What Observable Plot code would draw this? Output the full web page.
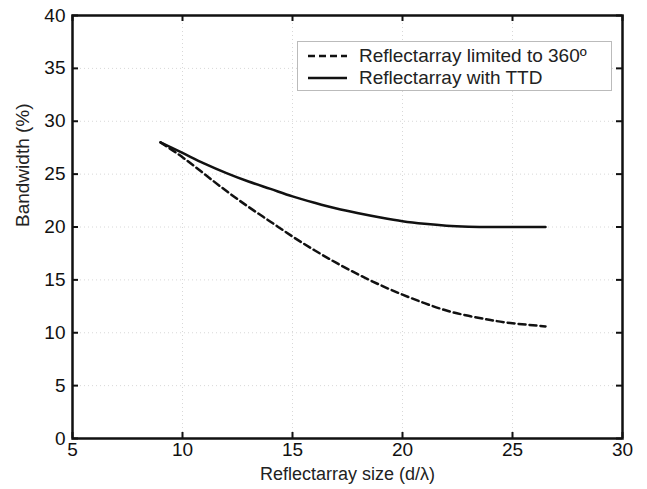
<!DOCTYPE html>
<html>
<head>
<meta charset="utf-8">
<script src="https://cdn.jsdelivr.net/npm/d3@7"></script>
<script src="https://cdn.jsdelivr.net/npm/@observablehq/plot@0.6"></script>
<style>
  body { margin: 0; background: #fff; font-family: "Liberation Sans", Arial, sans-serif; }
  #wrap { position: relative; width: 647px; height: 489px; }
  #legend { position: absolute; left: 297px; top: 41px; width: 315px; height: 50px; border: 1px solid #bbb; background: #fff; box-sizing: border-box; font-size: 19px; color: #222; }
  .row { position: absolute; left: 10px; display: flex; align-items: center; height: 22px; }
  .row span { margin-left: 11px; }
</style>
</head>
<body>
<div id="wrap"></div>
<script>
const sizeX = [9, 10, 11, 12, 13, 14, 15, 16, 17, 18, 19, 20, 21, 22, 23, 24, 25, 26.5];
const limited360 = [28, 26.6, 25.0, 23.4, 21.9, 20.5, 19.1, 17.8, 16.6, 15.5, 14.5, 13.6, 12.8, 12.1, 11.6, 11.2, 10.9, 10.6];
const withTTD = [28, 27.0, 26.0, 25.1, 24.3, 23.6, 22.9, 22.3, 21.75, 21.3, 20.9, 20.55, 20.3, 20.12, 20.03, 20.0, 20.0, 20.0];
const xTicks = [5, 10, 15, 20, 25, 30];
const yTicks = [0, 5, 10, 15, 20, 25, 30, 35, 40];
const seriesNames = ["Reflectarray limited to 360º", "Reflectarray with TTD"];
const xLabel = "Reflectarray size (d/λ)";
const yLabel = "Bandwidth (%)";

const W = 647, H = 489, mL = 72, mR = 25, mT = 15, mB = 51;
const innerW = W - mL - mR, innerH = H - mT - mB;
const dashed = sizeX.map((x, i) => ({x, y: limited360[i]}));
const solid = sizeX.map((x, i) => ({x, y: withTTD[i]}));
const tick = 6;

const chart = Plot.plot({
  width: W, height: H,
  marginLeft: mL, marginRight: mR, marginTop: mT, marginBottom: mB,
  style: {fontFamily: "Liberation Sans, Arial, sans-serif", fontSize: "19px", color: "#111", background: "#fff"},
  x: {domain: [5, 30], ticks: xTicks, tickSize: 0, tickPadding: 4, label: null},
  y: {domain: [0, 40], ticks: yTicks, tickSize: 0, tickPadding: 7, label: null},
  marks: [
    Plot.ruleX(xTicks.slice(1, -1), {stroke: "#d8d8d8", strokeDasharray: "1,3"}),
    Plot.ruleY(yTicks.slice(1, -1), {stroke: "#d8d8d8", strokeDasharray: "1,3"}),
    Plot.tickX(xTicks, {x: d => d, insetTop: innerH - tick, stroke: "#111", strokeWidth: 2}),
    Plot.tickX(xTicks, {x: d => d, insetBottom: innerH - tick, stroke: "#111", strokeWidth: 2}),
    Plot.tickY(yTicks, {y: d => d, insetRight: innerW - tick, stroke: "#111", strokeWidth: 2}),
    Plot.tickY(yTicks, {y: d => d, insetLeft: innerW - tick, stroke: "#111", strokeWidth: 2}),
    Plot.line(dashed, {x: "x", y: "y", curve: "natural", stroke: "#111", strokeWidth: 2.5, strokeDasharray: "7,4"}),
    Plot.line(solid, {x: "x", y: "y", curve: "monotone-x", stroke: "#111", strokeWidth: 2.5}),
    Plot.frame({stroke: "#111", strokeWidth: 2.5}),
    Plot.text([xLabel], {frameAnchor: "bottom", dy: 41, fontSize: 18, fill: "#222"}),
    Plot.text([yLabel], {frameAnchor: "left", rotate: -90, dx: -50, fontSize: 19, fill: "#222"})
  ]
});
const wrap = document.getElementById("wrap");
wrap.appendChild(chart);

const legend = document.createElement("div");
legend.id = "legend";
const styles = ["7,4", null];
seriesNames.forEach((name, i) => {
  const row = document.createElement("div");
  row.className = "row";
  row.style.top = (i === 0 ? 3 : 25) + "px";
  const dash = styles[i] ? `stroke-dasharray="${styles[i]}"` : "";
  row.innerHTML = `<svg width="40" height="22"><line x1="0" x2="39" y1="11" y2="11" stroke="#111" stroke-width="2.5" ${dash}/></svg><span>${name}</span>`;
  legend.appendChild(row);
});
wrap.appendChild(legend);
</script>
</body>
</html>
